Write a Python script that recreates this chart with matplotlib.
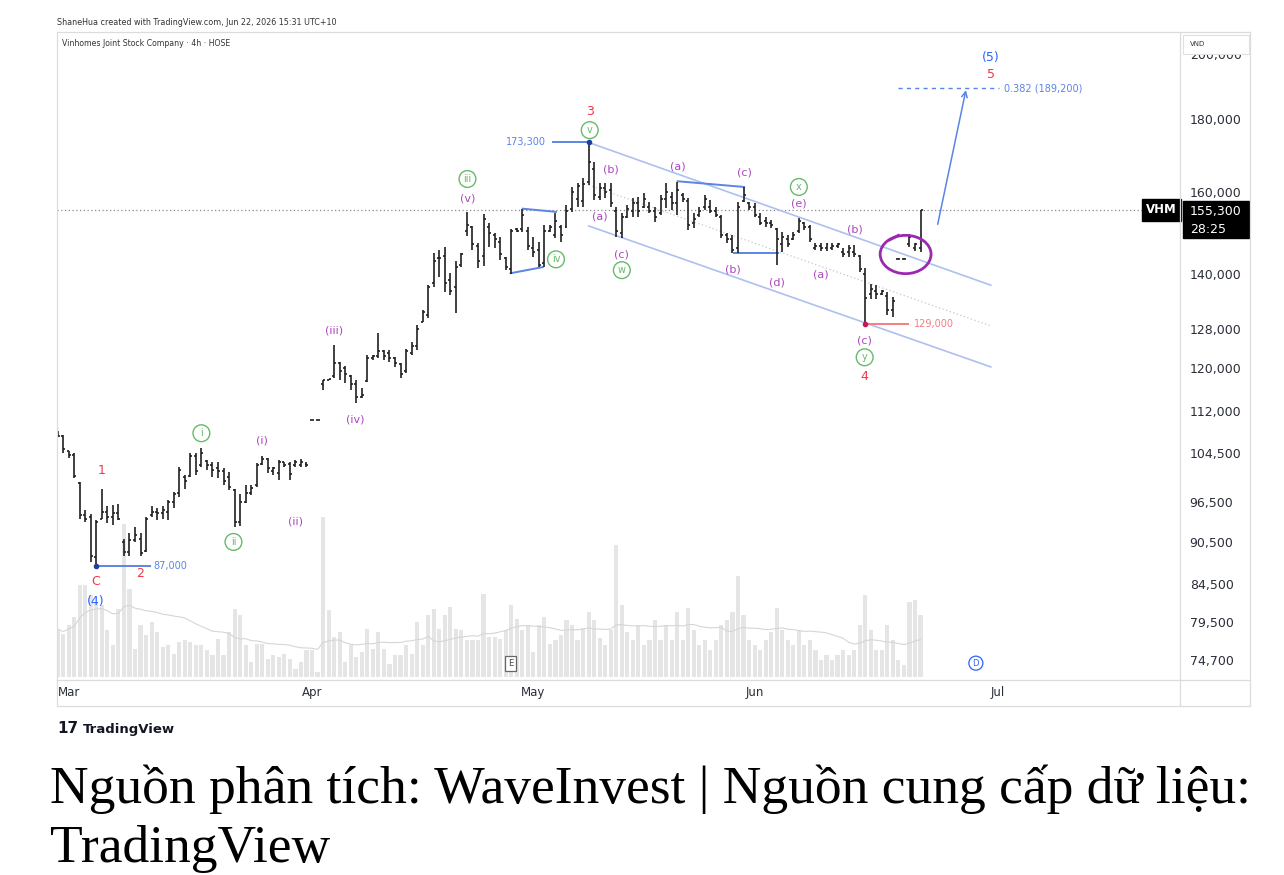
import matplotlib

matplotlib.use("Agg")
import matplotlib.pyplot as plt
import matplotlib.transforms as mtransforms
import pandas as pd
from matplotlib.lines import Line2D
from matplotlib.patches import Ellipse, Rectangle
from matplotlib.ticker import NullLocator

plt.rcParams["font.family"] = ["DejaVu Sans"]

# VHM 4h bars, prices in thousand VND (Feb 27 -> Jun 22)
highs = [
    108.4, 107.7, 105.0, 104.5, 99.8, 95.3, 94.7, 93.8, 98.7, 95.9,
    96.1, 96.3, 91.0, 91.8, 92.8, 91.8, 94.3, 95.9, 95.7, 95.9,
    96.9, 98.2, 102.3, 100.9, 104.5, 104.5, 105.4, 103.4, 103.1, 103.1,
    102.0, 101.4, 98.7, 97.9, 99.3, 99.3, 102.9, 104.1, 103.7, 102.3,
    103.4, 103.1, 103.1, 103.4, 103.5, 103.1, 110.4, 110.4, 117.8, 118.0,
    124.7, 121.2, 120.4, 118.7, 117.8, 116.3, 122.7, 122.7, 127.1, 123.7,
    123.7, 122.3, 121.1, 123.9, 125.3, 128.8, 132.0, 137.4, 144.8, 145.5,
    146.2, 140.1, 142.8, 144.8, 154.8, 151.3, 147.2, 154.3, 152.0, 149.6,
    148.6, 143.8, 150.5, 150.8, 155.5, 151.0, 148.6, 147.4, 151.5, 151.5,
    154.5, 151.5, 156.5, 161.2, 162.2, 163.5, 173.3, 167.8, 162.2, 162.2,
    162.2, 156.0, 154.5, 156.5, 158.3, 158.6, 159.6, 157.3, 156.0, 159.1,
    162.2, 159.9, 162.5, 159.6, 158.3, 154.5, 156.0, 159.1, 157.8, 156.0,
    154.0, 149.6, 149.1, 157.3, 161.2, 157.3, 157.0, 154.5, 153.5, 152.7,
    150.8, 149.8, 149.1, 149.8, 153.2, 152.2, 151.5, 147.2, 147.2, 147.2,
    147.2, 147.2, 146.0, 146.7, 146.7, 144.3, 141.3, 137.7, 137.4, 136.3,
    135.9, 134.8, 143.5, 143.5, 149.3, 147.2, 155.3,
]
lows = [
    107.3, 104.6, 103.7, 100.4, 94.0, 93.5, 87.6, 87.0, 94.0, 93.3,
    93.0, 93.8, 88.4, 88.4, 90.5, 88.4, 89.1, 94.3, 93.8, 94.0,
    93.8, 95.6, 97.4, 98.7, 100.6, 100.9, 102.3, 101.7, 100.6, 100.4,
    99.3, 98.5, 92.8, 92.9, 96.4, 97.7, 99.0, 102.6, 101.2, 100.9,
    100.1, 102.3, 100.1, 102.3, 102.3, 102.3, 110.3, 110.3, 115.9, 117.8,
    118.2, 117.8, 117.2, 115.9, 113.4, 114.4, 117.4, 121.7, 122.1, 121.7,
    121.3, 120.3, 118.2, 119.1, 122.7, 123.7, 129.4, 130.2, 137.0, 139.2,
    135.9, 135.2, 131.3, 141.5, 148.8, 145.5, 141.3, 141.8, 146.2, 146.0,
    143.1, 140.8, 139.9, 149.8, 149.8, 145.5, 143.8, 141.5, 141.5, 149.8,
    148.4, 147.4, 150.8, 154.8, 156.0, 156.0, 161.7, 157.8, 157.8, 158.3,
    156.0, 148.6, 148.4, 153.2, 153.5, 153.5, 155.8, 154.5, 152.2, 154.0,
    155.8, 155.3, 154.0, 157.3, 150.3, 150.8, 153.5, 155.3, 154.5, 153.5,
    148.4, 147.2, 144.8, 144.8, 157.3, 155.3, 153.5, 151.5, 151.0, 150.8,
    142.0, 145.0, 146.2, 147.9, 149.6, 150.3, 147.4, 145.5, 145.3, 145.3,
    145.5, 146.0, 143.8, 143.8, 143.8, 140.3, 129.0, 134.4, 134.4, 135.2,
    130.9, 130.5, 143.4, 143.4, 146.2, 145.3, 145.0,
]
opens = [
    108.2, 107.6, 105.0, 104.3, 99.6, 94.5, 94.2, 88.3, 94.0, 95.0,
    94.3, 94.8, 90.5, 89.0, 90.8, 91.0, 89.2, 94.5, 95.0, 94.8,
    95.0, 96.5, 98.0, 100.5, 100.8, 104.0, 102.5, 103.2, 102.5, 102.0,
    101.5, 100.5, 98.5, 93.5, 96.5, 98.0, 99.2, 102.8, 103.5, 101.5,
    101.2, 103.0, 102.8, 102.5, 102.5, 102.8, 110.3, 110.3, 117.0, 117.8,
    118.5, 121.0, 120.0, 118.5, 117.0, 114.5, 117.5, 122.0, 122.5, 123.5,
    123.0, 122.0, 120.8, 119.5, 123.0, 124.5, 129.5, 131.0, 138.0, 143.5,
    144.0, 138.5, 137.0, 142.0, 150.0, 151.0, 146.5, 144.0, 151.0, 149.0,
    147.5, 143.5, 141.0, 150.5, 150.5, 150.0, 146.0, 145.5, 142.5, 150.0,
    149.0, 151.0, 151.0, 155.5, 158.0, 157.5, 162.5, 166.0, 158.5, 161.0,
    160.5, 155.0, 149.5, 153.5, 155.0, 157.0, 156.0, 156.0, 155.0, 154.5,
    158.0, 158.5, 157.0, 159.0, 157.5, 152.0, 154.0, 156.0, 156.0, 155.0,
    153.5, 149.0, 148.0, 146.0, 157.5, 157.0, 156.0, 153.5, 152.5, 152.0,
    150.5, 147.0, 148.0, 148.0, 150.0, 152.0, 151.0, 146.0, 146.5, 146.0,
    146.0, 146.5, 145.0, 145.0, 145.0, 144.0, 140.0, 135.5, 136.0, 135.5,
    135.0, 132.0, 143.4, 143.4, 147.0, 146.0, 146.0,
]
closes = [
    107.6, 105.2, 104.2, 100.8, 94.5, 94.0, 88.5, 93.5, 95.0, 94.3,
    94.8, 94.0, 89.0, 90.8, 91.5, 88.9, 94.0, 95.0, 94.8, 95.3,
    96.5, 97.8, 101.8, 100.0, 104.0, 101.5, 104.5, 102.5, 101.8, 101.5,
    100.0, 99.0, 93.5, 96.5, 98.0, 98.8, 102.5, 103.5, 102.0, 102.0,
    103.0, 102.5, 101.0, 103.0, 103.0, 102.6, 110.3, 110.3, 117.8, 118.0,
    121.0, 119.5, 119.0, 117.0, 114.5, 115.0, 122.0, 122.5, 123.5, 122.5,
    122.0, 121.0, 119.0, 123.5, 124.5, 128.0, 131.5, 137.0, 143.0, 143.5,
    138.0, 136.0, 141.5, 144.5, 151.5, 147.0, 143.0, 153.0, 149.5, 148.0,
    144.5, 141.5, 150.0, 150.0, 154.0, 146.5, 145.0, 142.0, 150.0, 151.0,
    152.5, 149.0, 155.0, 160.0, 161.5, 162.0, 168.0, 159.0, 161.0, 160.0,
    157.0, 150.0, 153.5, 155.5, 157.0, 155.0, 158.0, 155.0, 153.5, 158.0,
    160.0, 157.0, 160.5, 158.0, 151.5, 153.0, 155.0, 158.0, 155.0, 154.0,
    149.0, 148.0, 145.5, 156.0, 159.0, 156.0, 154.0, 152.0, 152.0, 151.5,
    148.0, 148.5, 147.0, 149.0, 152.5, 151.0, 148.0, 146.5, 146.0, 146.8,
    146.5, 147.0, 144.5, 146.0, 144.5, 141.0, 134.5, 136.5, 135.5, 136.0,
    132.0, 134.0, 143.4, 143.4, 148.5, 147.0, 155.3,
]
# volume, million shares (rough read)
volumes = [
    4.8, 4.3, 5.2, 6.0, 9.2, 9.2, 8.2, 7.5, 7.2, 4.7,
    3.2, 6.8, 15.3, 8.8, 2.8, 5.2, 4.2, 5.5, 4.5, 3.0,
    3.2, 2.3, 3.5, 3.7, 3.5, 3.2, 3.2, 2.7, 2.2, 3.8,
    2.2, 4.5, 6.8, 6.2, 3.2, 1.5, 3.3, 3.3, 1.8, 2.2,
    2.0, 2.3, 1.8, 0.8, 1.5, 2.7, 2.7, 0.5, 16.0, 6.7,
    4.0, 4.5, 1.5, 3.2, 2.0, 2.5, 4.8, 2.8, 4.5, 2.8,
    1.3, 2.2, 2.2, 3.2, 2.3, 5.5, 3.2, 6.2, 6.8, 4.8,
    6.2, 7.0, 4.8, 4.7, 3.7, 3.7, 3.7, 8.3, 4.0, 4.0,
    3.8, 4.7, 7.2, 5.8, 4.7, 5.2, 2.5, 5.2, 6.0, 3.3,
    3.7, 4.2, 5.7, 5.2, 3.7, 4.9, 6.5, 5.7, 3.9, 3.2,
    4.7, 13.2, 7.2, 4.5, 3.7, 5.2, 3.2, 3.7, 5.7, 3.7,
    5.2, 3.7, 6.5, 3.7, 6.9, 4.7, 3.2, 3.7, 2.7, 3.7,
    5.2, 5.7, 6.5, 10.1, 6.2, 3.7, 3.2, 2.7, 3.7, 4.5,
    6.9, 4.7, 3.7, 3.2, 4.7, 3.2, 3.7, 2.7, 1.7, 2.2,
    1.7, 2.2, 2.7, 2.2, 2.7, 5.2, 8.2, 4.7, 2.7, 2.7,
    5.2, 3.7, 1.7, 1.2, 7.5, 7.7, 6.2,
]

month_labels = ["Mar", "Apr", "May", "Jun", "Jul"]
month_bars = [2, 46, 86, 126, 170]
price_ticks = [74.7, 79.5, 84.5, 90.5, 96.5, 104.5, 112.0, 120.0, 128.0, 140.0, 160.0, 180.0, 200.0]
last_price = 155.3

# wave labels: (text, bar, price)
red_labels = [("1", 8.0, 101.6), ("C", 6.9, 84.8), ("2", 15.0, 86.0), ("3", 96.2, 182.1),
              ("4", 145.9, 118.5), ("5", 168.7, 193.4)]
blue_labels = [("(4)", 6.9, 82.1), ("(5)", 168.7, 199.1)]
green_labels = [("i", 26.0, 108.0), ("ii", 31.8, 90.5), ("iii", 74.1, 163.3), ("iv", 90.1, 143.3),
                ("v", 96.2, 176.8), ("w", 102.0, 140.8), ("x", 134.0, 161.2), ("y", 145.9, 122.2)]
purple_labels = [("(i)", 36.9, 106.8), ("(ii)", 43.0, 93.5), ("(iii)", 49.9, 127.7), ("(iv)", 53.9, 110.4),
                 ("(v)", 74.1, 158.3), ("(b)", 100.0, 165.9), ("(a)", 98.0, 153.7), ("(c)", 102.0, 144.5),
                 ("(a)", 112.1, 166.7), ("(c)", 124.1, 165.1), ("(b)", 122.1, 141.0), ("(d)", 130.0, 138.1),
                 ("(e)", 134.0, 156.8), ("(a)", 138.0, 139.9), ("(b)", 144.1, 150.5), ("(c)", 145.9, 125.5)]

# channel (start bar, start price, end bar, end price)
channel_top = (96, 173.3, 168.7, 137.4)
channel_mid = (96, 161.7, 168.7, 128.6)
channel_bot = (96, 151.3, 168.7, 120.3)
fib_level = 189.2

RED = "#f23645"
BLUE = "#2962ff"
LBLUE = "#5b84e6"
GREEN = "#66bb6a"
PURPLE = "#ab47bc"
BAR = "#202020"

W, H = 1284, 875


def fx(px):
    return px / W


def fy(py):
    return 1 - py / H


fig = plt.figure(figsize=(W / 100, H / 100), dpi=100)
fig.patch.set_facecolor("white")
rect = [fx(57), fy(680), (1180 - 57) / W, (680 - 32) / H]
axv = fig.add_axes(rect)
ax = fig.add_axes(rect, sharex=axv)
ax.patch.set_visible(False)
for a in (ax, axv):
    for s in a.spines.values():
        s.set_visible(False)

n = len(highs)
assert n == len(lows) == len(opens) == len(closes) == len(volumes)
idx = list(range(n))

# volume
axv.bar(idx, volumes, width=0.75, color="#e5e5e5", zorder=1)
vol_ma = pd.Series(volumes).rolling(20, min_periods=1).mean()
axv.plot(idx, vol_ma, color="#d6d6d6", lw=0.8, zorder=2)
axv.set_ylim(-0.3, 64.5)
axv.set_yticks([])
axv.tick_params(axis="x", labelbottom=False, length=0)

# OHLC bars
ax.set_yscale("log")
tick = 0.36
ax.vlines(idx, lows, highs, color=BAR, lw=1.2, zorder=4)
ax.hlines(opens, [i - tick for i in idx], idx, color=BAR, lw=1.2, zorder=4)
ax.hlines(closes, idx, [i + tick for i in idx], color=BAR, lw=1.2, zorder=4)

ax.set_xlim(-0.1, 202.9)
ax.set_ylim(72.3, 207.4)
ax.yaxis.tick_right()
ax.set_yticks(price_ticks)
ax.set_yticklabels([f"{round(t * 1000):,}" for t in price_ticks])
ax.yaxis.set_minor_locator(NullLocator())
ax.tick_params(axis="y", length=0, pad=7, labelsize=9, labelcolor="#2a2e39")
ax.set_xticks(month_bars)
ax.set_xticklabels(month_labels)
ax.tick_params(axis="x", length=0, pad=4, labelsize=8.5, labelcolor="#2a2e39")

# last price line
ax.axhline(last_price, color="#8a8a8a", lw=0.9, ls=(0, (1, 2)), zorder=2)

# channel
for seg in (channel_top, channel_bot):
    ax.plot([seg[0], seg[2]], [seg[1], seg[3]], color="#adc0f0", lw=1.2, zorder=3)
ax.plot([channel_mid[0], channel_mid[2]], [channel_mid[1], channel_mid[3]],
        color="#c8c8c8", lw=0.9, ls=(0, (1, 2)), zorder=3)

# blue zigzag lines
ax.plot([81.9, 87.7], [140.1, 141.5], color=LBLUE, lw=1.4, zorder=3)
ax.plot([84.1, 90.1], [155.6, 154.8], color=LBLUE, lw=1.4, zorder=3)
ax.plot([112.1, 124.1], [162.7, 161.2], color=LBLUE, lw=1.4, zorder=3)
ax.plot([122.2, 130.2], [144.8, 144.8], color=LBLUE, lw=1.4, zorder=3)

# price marks
ax.plot([7, 16.8], [87.0, 87.0], color=LBLUE, lw=1.4, zorder=3)
ax.plot(7, 87.0, "o", ms=3, color="#1f3f99", zorder=5)
ax.text(17.4, 87.0, "87,000", color=LBLUE, fontsize=7, va="center", ha="left")
ax.plot([89.5, 96], [173.3, 173.3], color=LBLUE, lw=1.4, zorder=3)
ax.plot(96, 173.3, "o", ms=3, color="#1f3f99", zorder=5)
ax.text(88.2, 173.3, "173,300", color=LBLUE, fontsize=7, va="center", ha="right")
ax.plot([146, 153.7], [129.0, 129.0], color="#f77c80", lw=1.4, zorder=3)
ax.plot(146, 129.0, "o", ms=3, color="#c2185b", zorder=5)
ax.text(154.8, 129.0, "129,000", color="#f77c80", fontsize=7, va="center", ha="left")

# target
ax.plot([151.9, 170.2], [fib_level, fib_level], color=LBLUE, lw=1.0, ls=(0, (3, 3)), zorder=3)
ax.text(171.1, fib_level, "0.382 (189,200)", color=LBLUE, fontsize=7, va="center", ha="left")
ax.annotate("", xy=(164.2, 188.7), xytext=(159.1, 151.7),
            arrowprops=dict(arrowstyle="->", color=LBLUE, lw=1.1, shrinkA=0, shrinkB=0))

# circled breakout
ax.add_patch(Ellipse((153.3, 144.5), width=9.2, height=9.0, fill=False, ec="#9c27b0", lw=2.0, zorder=6))
ax.plot([150.4, 152.0], [147.9, 149.0], color="#9c27b0", lw=2.0, zorder=6)

for t, b, p in red_labels:
    ax.text(b, p, t, color=RED, fontsize=9, ha="center", va="center", zorder=6)
for t, b, p in blue_labels:
    ax.text(b, p, t, color=BLUE, fontsize=9, ha="center", va="center", zorder=6)
for t, b, p in purple_labels:
    ax.text(b, p, t, color=PURPLE, fontsize=8, ha="center", va="center", zorder=6)
for t, b, p in green_labels:
    ax.text(b, p, t, color=GREEN, fontsize=7, ha="center", va="center", zorder=6,
            bbox=dict(boxstyle="circle,pad=0.35", fc="white", ec=GREEN, lw=1.0))

# E / D markers
bt = mtransforms.blended_transform_factory(ax.transData, ax.transAxes)
ax.text(81.9, 0.026, "E", transform=bt, fontsize=6, color="#444", ha="center", va="center",
        bbox=dict(boxstyle="square,pad=0.35", fc="white", ec="#666", lw=0.9))
ax.text(166.0, 0.026, "D", transform=bt, fontsize=6, color=BLUE, ha="center", va="center",
        bbox=dict(boxstyle="circle,pad=0.3", fc="white", ec=BLUE, lw=0.9))

# last price tags
bt2 = mtransforms.blended_transform_factory(ax.transAxes, ax.transData)
ax.text(0.997, last_price, "VHM", transform=bt2, ha="right", va="center", color="white",
        fontsize=8.5, fontweight="bold", zorder=7,
        bbox=dict(boxstyle="square,pad=0.35", fc="black", ec="black"))
fig.add_artist(Rectangle((fx(1183), fy(238)), (1249 - 1183) / W, (238 - 201) / H,
                         transform=fig.transFigure, fc="black", ec="black"))
fig.text(fx(1190), fy(211), "155,300", color="white", fontsize=9, va="center", ha="left")
fig.text(fx(1190), fy(229), "28:25", color="white", fontsize=9, va="center", ha="left")

# VND box (covers the top of the 200,000 label like the source)
fig.add_artist(Rectangle((fx(1183), fy(54)), (1249 - 1183) / W, 19 / H,
                         transform=fig.transFigure, fc="white", ec="#e0e0e0", lw=0.8, zorder=5))
fig.text(fx(1190), fy(44), "VND", color="#333", fontsize=5, va="center", ha="left", zorder=6)

# frame lines
frame_color = "#dcdcdc"
for (x0, y0, x1, y1) in [(57, 32, 1250, 32), (57, 706, 1250, 706), (57, 680, 1250, 680),
                         (1180, 32, 1180, 706), (1250, 32, 1250, 706), (57, 32, 57, 706)]:
    fig.add_artist(Line2D([fx(x0), fx(x1)], [fy(y0), fy(y1)], transform=fig.transFigure,
                          color=frame_color, lw=0.9))

# header
fig.text(fx(57), fy(25), "ShaneHua created with TradingView.com, Jun 22, 2026 15:31 UTC+10",
         fontsize=5.8, color="#333", va="baseline", ha="left")
fig.text(fx(62), fy(46), "Vinhomes Joint Stock Company · 4h · HOSE",
         fontsize=5.6, color="#333", va="baseline", ha="left")

# TradingView logo
fig.text(fx(57), fy(733), "17", fontsize=11, fontweight="heavy", color="#131722", va="baseline")
fig.text(fx(83), fy(733), "TradingView", fontsize=9.5, fontweight="bold", color="#131722", va="baseline")

# caption
fig.text(fx(50), fy(803), "Nguồn phân tích: WaveInvest | Nguồn cung cấp dữ liệu:",
         family="Liberation Serif", fontsize=38.5, color="black", va="baseline", ha="left")
fig.text(fx(50), fy(862), "TradingView",
         family="Liberation Serif", fontsize=38.5, color="black", va="baseline", ha="left")

fig.savefig("out.png", dpi=100)
